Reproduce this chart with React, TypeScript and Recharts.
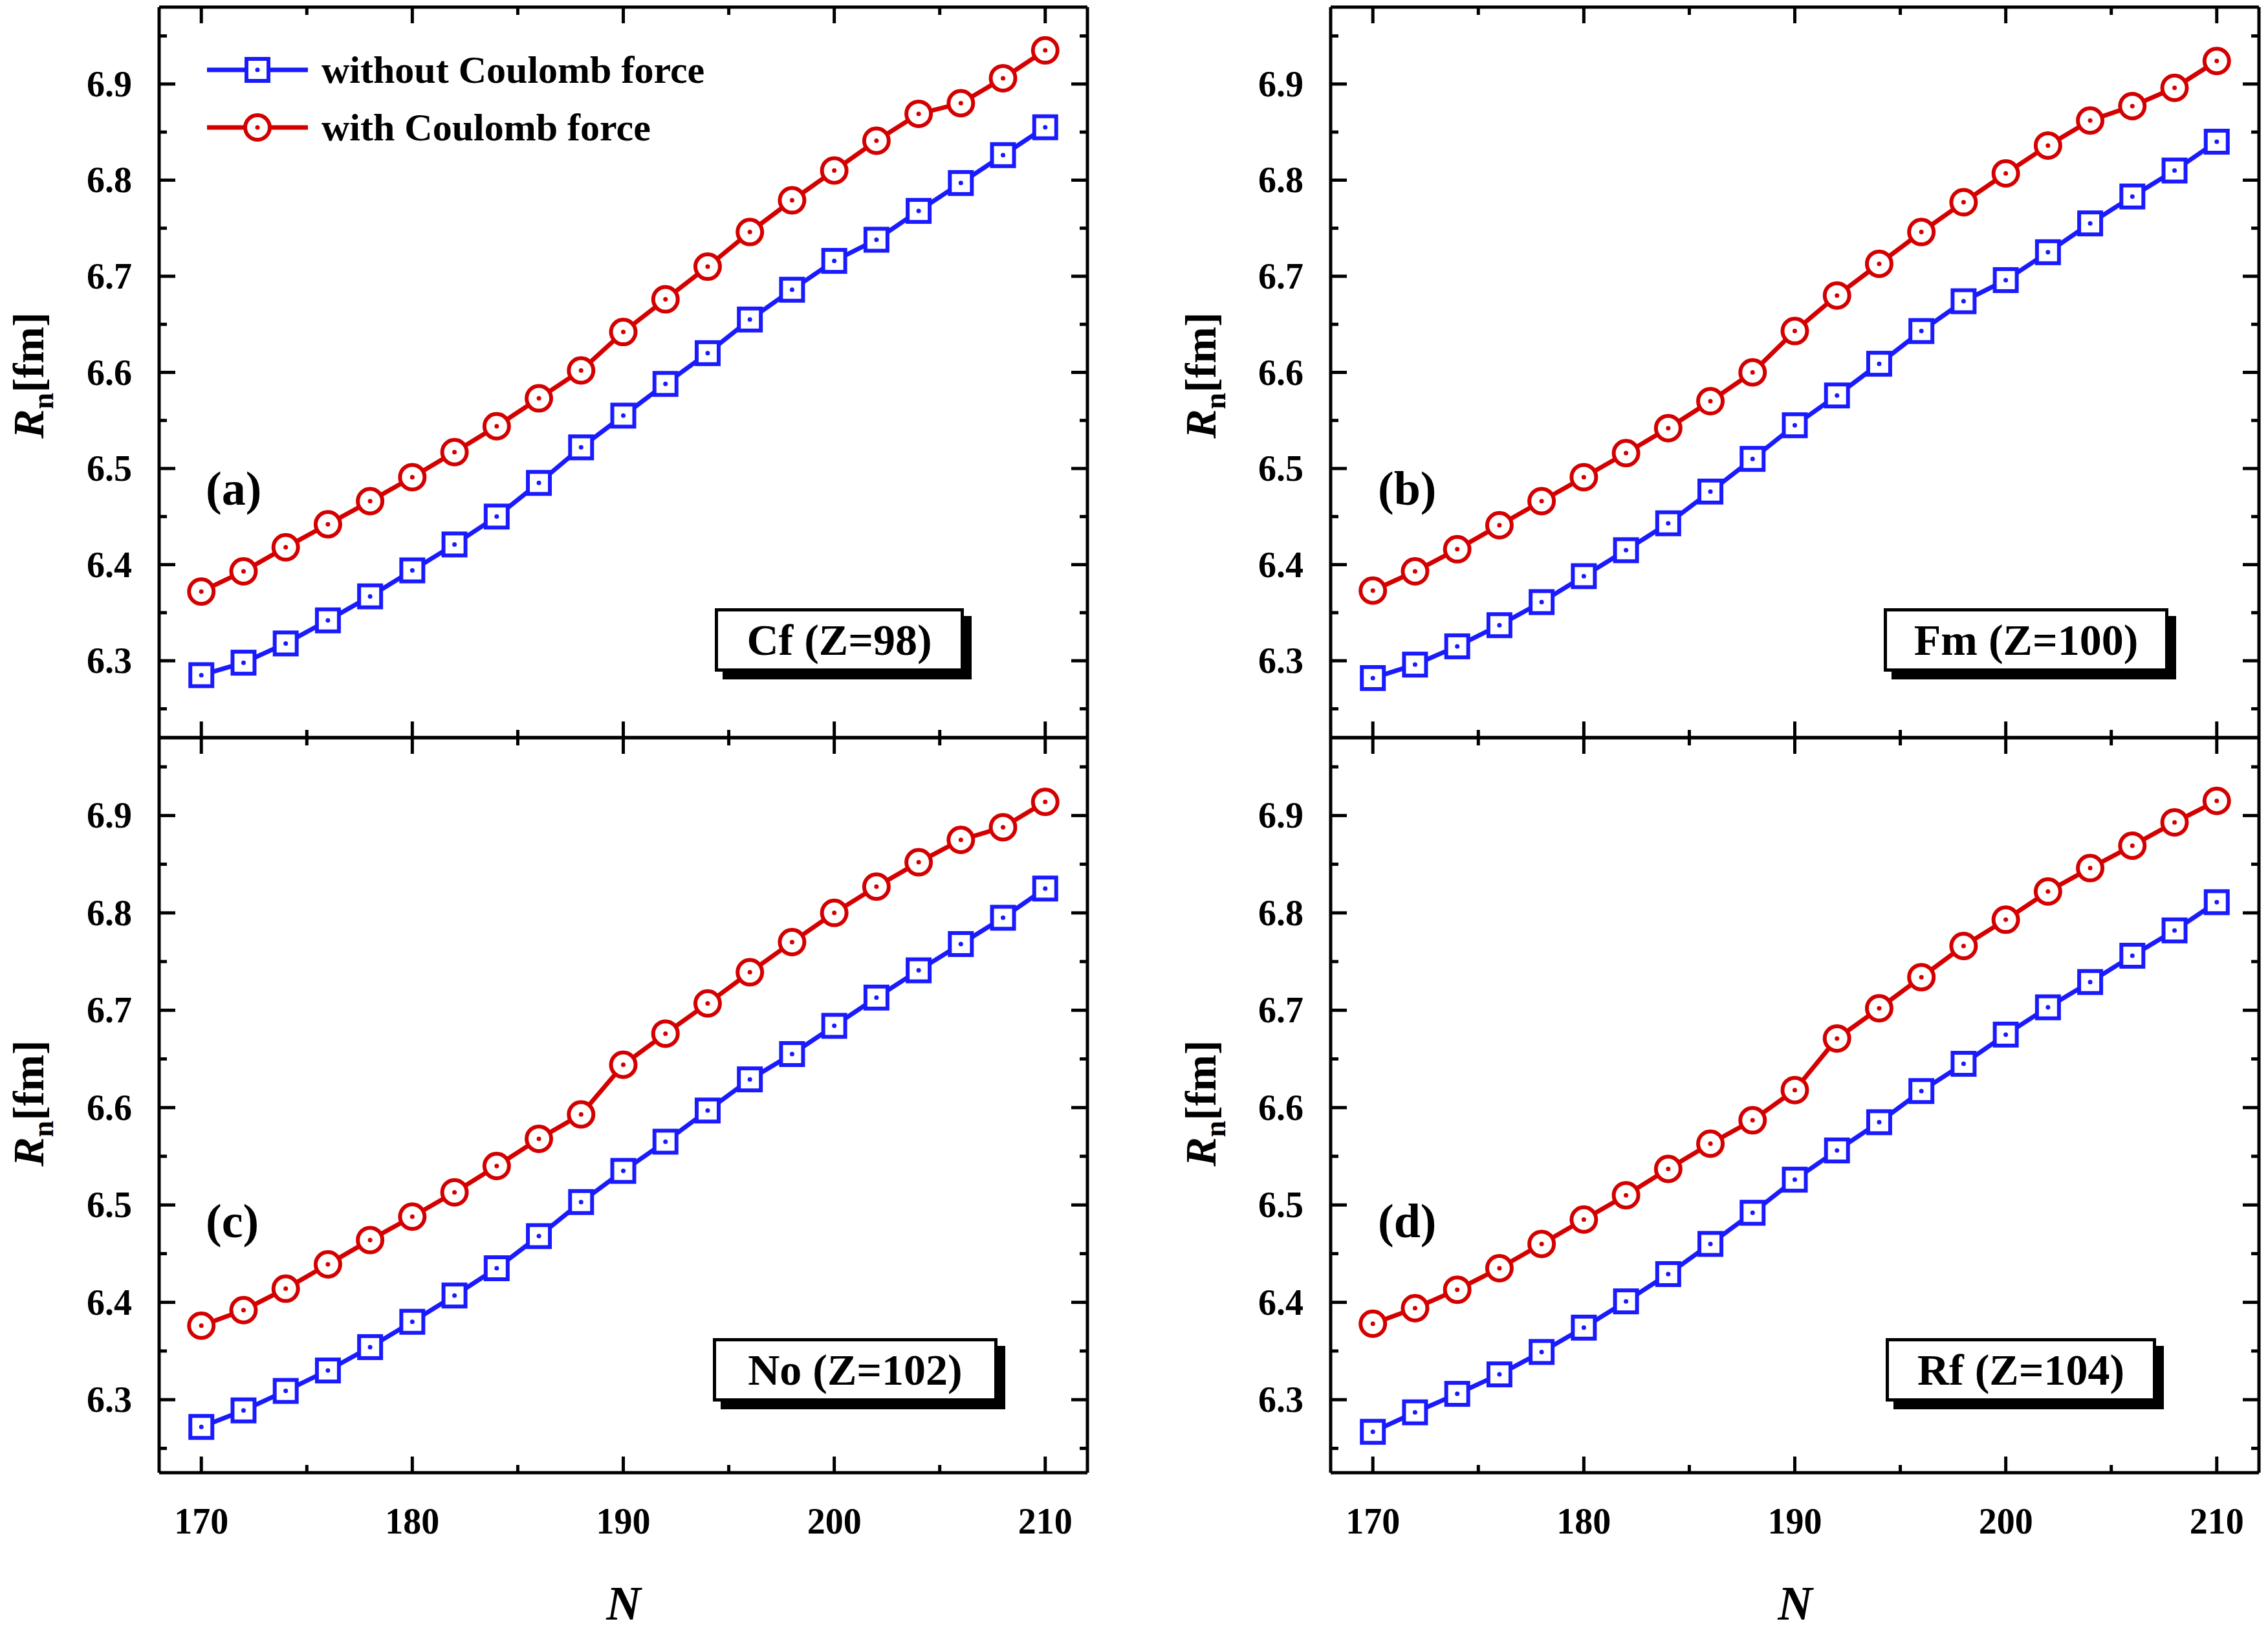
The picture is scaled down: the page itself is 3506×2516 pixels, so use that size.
import React from "react";
import { LineChart, Line, XAxis, YAxis } from "recharts";

const N = [170,172,174,176,178,180,182,184,186,188,190,192,194,196,198,200,202,204,206,208,210];
const aWithout = [6.285,6.298,6.318,6.342,6.367,6.394,6.421,6.450,6.485,6.522,6.555,6.588,6.620,6.655,6.686,6.716,6.738,6.768,6.797,6.826,6.855];
const aWith = [6.372,6.393,6.418,6.442,6.466,6.491,6.517,6.544,6.573,6.602,6.642,6.676,6.710,6.746,6.779,6.810,6.841,6.869,6.880,6.906,6.935];
const bWithout = [6.282,6.296,6.315,6.337,6.361,6.388,6.415,6.443,6.476,6.510,6.545,6.576,6.609,6.643,6.674,6.696,6.725,6.755,6.783,6.810,6.840];
const bWith = [6.373,6.393,6.416,6.441,6.466,6.491,6.516,6.542,6.570,6.600,6.643,6.680,6.713,6.746,6.777,6.807,6.836,6.862,6.877,6.896,6.924];
const cWithout = [6.272,6.289,6.309,6.330,6.354,6.380,6.407,6.435,6.468,6.503,6.535,6.565,6.597,6.629,6.655,6.684,6.713,6.741,6.768,6.795,6.825];
const cWith = [6.376,6.392,6.414,6.439,6.464,6.488,6.513,6.540,6.568,6.593,6.644,6.676,6.707,6.739,6.770,6.800,6.827,6.852,6.875,6.888,6.914];
const dWithout = [6.267,6.287,6.306,6.326,6.349,6.374,6.401,6.429,6.460,6.492,6.526,6.556,6.585,6.617,6.645,6.675,6.703,6.729,6.756,6.782,6.811];
const dWith = [6.378,6.394,6.413,6.435,6.460,6.485,6.510,6.537,6.563,6.587,6.618,6.671,6.702,6.734,6.766,6.793,6.822,6.846,6.869,6.893,6.915];

const xTicks = [170,175,180,185,190,195,200,205,210];
const yTicks = [6.25,6.3,6.35,6.4,6.45,6.5,6.55,6.6,6.65,6.7,6.75,6.8,6.85,6.9,6.95];
const seriesNames = ["without Coulomb force", "with Coulomb force"];

const W = 3506, H = 2516;
const FONT = "'Liberation Serif', 'Times New Roman', serif";
const BLUE = "#1a1aff";
const RED = "#d40000";
const SW = 5;

const isMajorX = (v: number) => v % 10 === 0;
const isMajorY = (v: number) => Math.abs(Math.round(v * 10) - v * 10) < 1e-6;

const mkTickX = (side: "bottom" | "top", labels: boolean) => (p: any) => {
  const v = p.payload.value;
  const len = isMajorX(v) ? 27 : 14;
  const dir = side === "bottom" ? -1 : 1;
  return (
    <g>
      <line x1={p.x} x2={p.x} y1={p.y} y2={p.y + dir * len} stroke="#000" strokeWidth={SW} />
      {labels && isMajorX(v) && (
        <text x={p.x} y={p.y + 92} textAnchor="middle" fontFamily={FONT} fontWeight="bold" fontSize={56} fill="#000">{v}</text>
      )}
    </g>
  );
};
const mkTickY = (side: "left" | "right") => (p: any) => {
  const v = p.payload.value;
  const len = isMajorY(v) ? 27 : 14;
  const dir = side === "left" ? 1 : -1;
  return (
    <g>
      <line x1={p.x} x2={p.x + dir * len} y1={p.y} y2={p.y} stroke="#000" strokeWidth={SW} />
      {side === "left" && isMajorY(v) && (
        <text x={p.x - 40} y={p.y + 19} textAnchor="end" fontFamily={FONT} fontWeight="bold" fontSize={56} fill="#000">{v.toFixed(1)}</text>
      )}
    </g>
  );
};

const SquareDot = (p: any) => (
  <g key={`s${p.index}`}>
    <rect x={p.cx - 17} y={p.cy - 17} width={34} height={34} fill="#fff" stroke={BLUE} strokeWidth={6} />
    <circle cx={p.cx} cy={p.cy} r={3.5} fill={BLUE} />
  </g>
);
const CircleDot = (p: any) => (
  <g key={`c${p.index}`}>
    <circle cx={p.cx} cy={p.cy} r={19} fill="#fff" stroke={RED} strokeWidth={6} />
    <circle cx={p.cx} cy={p.cy} r={3.5} fill={RED} />
  </g>
);

type PanelProps = { left: number; top: number; right: number; bottom: number; wo: number[]; w: number[]; domain: [number, number]; xLabels: boolean };

function Panel({ left, top, right, bottom, wo, w, domain, xLabels }: PanelProps) {
  const data = N.map((n, i) => ({ n, wo: wo[i], w: w[i] }));
  return (
    <div style={{ position: "absolute", left: 0, top: 0 }}>
      <LineChart width={W} height={H} data={data} margin={{ left: left - 1, top: top - 1, right: W - right - 1, bottom: H - bottom - 1 }}>
        <XAxis xAxisId="b" dataKey="n" type="number" domain={[168, 212]} ticks={xTicks} height={1} tickSize={0} tickLine={false}
          axisLine={{ stroke: "#000", strokeWidth: SW }} tick={mkTickX("bottom", xLabels)} interval={0} />
        <XAxis xAxisId="t" orientation="top" dataKey="n" type="number" domain={[168, 212]} ticks={xTicks} height={1} tickSize={0} tickLine={false}
          axisLine={{ stroke: "#000", strokeWidth: SW }} tick={mkTickX("top", false)} interval={0} />
        <YAxis yAxisId="l" type="number" domain={domain} ticks={yTicks} width={1} tickSize={0} tickLine={false}
          axisLine={{ stroke: "#000", strokeWidth: SW }} tick={mkTickY("left")} interval={0} allowDataOverflow />
        <YAxis yAxisId="r" orientation="right" type="number" domain={domain} ticks={yTicks} width={1} tickSize={0} tickLine={false}
          axisLine={{ stroke: "#000", strokeWidth: SW }} tick={mkTickY("right")} interval={0} allowDataOverflow />
        <Line xAxisId="b" yAxisId="l" dataKey="wo" name={seriesNames[0]} stroke={BLUE} strokeWidth={7} dot={SquareDot} isAnimationActive={false} />
        <Line xAxisId="b" yAxisId="l" dataKey="w" name={seriesNames[1]} stroke={RED} strokeWidth={7} dot={CircleDot} isAnimationActive={false} />
      </LineChart>
    </div>
  );
}

const txt: React.CSSProperties = { position: "absolute", fontFamily: FONT, fontWeight: "bold", color: "#000", whiteSpace: "nowrap", lineHeight: 1 };

function Box({ x, y, w, label }: { x: number; y: number; w: number; label: string }) {
  return (
    <div style={{ position: "absolute", left: x, top: y, width: w, height: 98, border: "5px solid #000", background: "#fff",
      boxShadow: "12px 12px 0 #000", display: "flex", alignItems: "center", justifyContent: "center", boxSizing: "border-box" }}>
      <span style={{ fontFamily: FONT, fontWeight: "bold", fontSize: 68 }}>{label}</span>
    </div>
  );
}

function YLabel({ cx, cy }: { cx: number; cy: number }) {
  return (
    <div style={{ ...txt, left: cx, top: cy, fontSize: 68, transform: "translate(-50%,-50%) rotate(-90deg)" }}>
      <i>R</i><sub style={{ fontSize: 46 }}>n</sub>[fm]
    </div>
  );
}

export default function App() {
  return (
    <div style={{ position: "absolute", left: 0, top: 0, width: W, height: H, background: "#fff", overflow: "hidden" }}>
      <Panel left={246} top={11} right={1681} bottom={1140} wo={aWithout} w={aWith} domain={[6.22, 6.98]} xLabels={false} />
      <Panel left={2057} top={11} right={3492} bottom={1140} wo={bWithout} w={bWith} domain={[6.22, 6.98]} xLabels={false} />
      <Panel left={246} top={1140} right={1681} bottom={2276} wo={cWithout} w={cWith} domain={[6.225, 6.98]} xLabels={true} />
      <Panel left={2057} top={1140} right={3492} bottom={2276} wo={dWithout} w={dWith} domain={[6.225, 6.98]} xLabels={true} />

      <svg style={{ position: "absolute", left: 0, top: 0 }} width={W} height={H}>
        <line x1={320} x2={476} y1={108} y2={108} stroke={BLUE} strokeWidth={7} />
        <rect x={381} y={91} width={34} height={34} fill="#fff" stroke={BLUE} strokeWidth={6} />
        <circle cx={398} cy={108} r={3.5} fill={BLUE} />
        <line x1={320} x2={476} y1={197} y2={197} stroke={RED} strokeWidth={7} />
        <circle cx={398} cy={197} r={19} fill="#fff" stroke={RED} strokeWidth={6} />
        <circle cx={398} cy={197} r={3.5} fill={RED} />
        <text x={497} y={128} fontFamily={FONT} fontWeight="bold" fontSize={60}>{seriesNames[0]}</text>
        <text x={497} y={217} fontFamily={FONT} fontWeight="bold" fontSize={60}>{seriesNames[1]}</text>
      </svg>

      <div style={{ ...txt, left: 318, top: 718, fontSize: 74 }}>(a)</div>
      <div style={{ ...txt, left: 2130, top: 718, fontSize: 74 }}>(b)</div>
      <div style={{ ...txt, left: 318, top: 1850, fontSize: 74 }}>(c)</div>
      <div style={{ ...txt, left: 2130, top: 1850, fontSize: 74 }}>(d)</div>

      <Box x={1105} y={940} w={385} label="Cf (Z=98)" />
      <Box x={2912} y={940} w={440} label="Fm (Z=100)" />
      <Box x={1102} y={2068} w={440} label="No (Z=102)" />
      <Box x={2915} y={2068} w={418} label="Rf (Z=104)" />

      <YLabel cx={50} cy={580} />
      <YLabel cx={50} cy={1705} />
      <YLabel cx={1862} cy={580} />
      <YLabel cx={1862} cy={1705} />

      <div style={{ ...txt, left: 964, top: 2478, fontSize: 74, fontStyle: "italic", transform: "translate(-50%,-50%)" }}>N</div>
      <div style={{ ...txt, left: 2775, top: 2478, fontSize: 74, fontStyle: "italic", transform: "translate(-50%,-50%)" }}>N</div>
    </div>
  );
}
